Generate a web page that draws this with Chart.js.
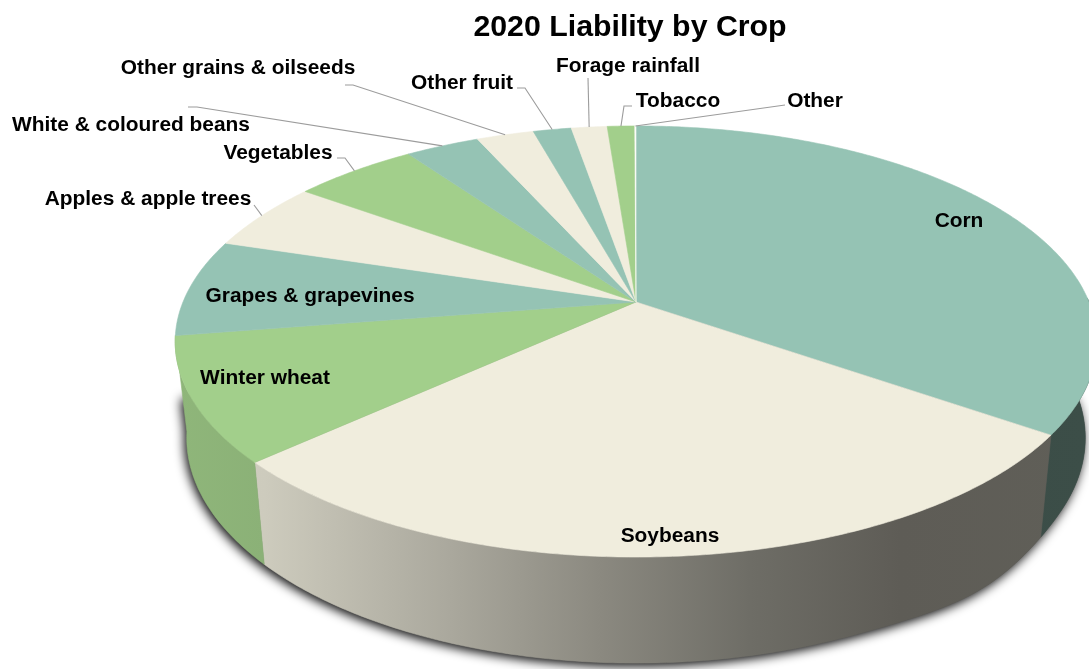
<!DOCTYPE html>
<html>
<head>
<meta charset="utf-8">
<title>2020 Liability by Crop</title>
<script src="https://cdn.jsdelivr.net/npm/chart.js@4"></script>
<style>
  html, body { margin: 0; padding: 0; background: #ffffff; }
  #wrap { width: 1089px; height: 669px; overflow: hidden; }
</style>
</head>
<body>
<div id="wrap"><canvas id="chart" width="1089" height="669"></canvas></div>
<script>
// Share of total 2020 liability, in percent.
const chartTitle = '2020 Liability by Crop';
const crops = ['Corn', 'Soybeans', 'Winter wheat', 'Grapes & grapevines', 'Apples & apple trees',
  'Vegetables', 'White & coloured beans', 'Other grains & oilseeds', 'Other fruit',
  'Forage rainfall', 'Tobacco', 'Other'];
const liability = [34.7, 28.5, 9.3, 7.3, 5.2, 5.2, 3.1, 2.4, 1.6, 1.5, 1.15, 0.05];

const TEAL = [149, 195, 180], CREAM = [240, 237, 221], GREEN = [162, 207, 139];
const sliceColors = [TEAL, CREAM, GREEN, TEAL, CREAM, GREEN, TEAL, CREAM, TEAL, CREAM, GREEN, [252, 252, 248]];

// Label centres, plus the elbow points of the leader lines (none for labels on the pie).
const labelCentres = [[959, 221], [670, 536], [265, 378], [310, 296], [148, 199], [278, 153],
  [131, 125], [238, 68], [462, 83], [628, 66], [678, 101], [815, 101]];
const leaderPaths = [null, null, null, null, [[254, 205]], [[345, 158], [337, 158]],
  [[197, 107], [188, 107]], [[353, 85], [345, 85]], [[525, 88], [517, 88]], [[588, 78]],
  [[624, 106], [632, 106]], [[785, 105]]];

// Perspective view of the unit disc: the apex sits above the centre of the rim ellipse.
const APEX = { x: 636, y: 302 };
const VIEW = { d: 453, a: 208.3, c: -0.1833 };
const toTop = (t) => {
  const u = Math.cos(t), v = Math.sin(t), w = 1 + VIEW.c * v;
  return { x: APEX.x + VIEW.d * u / w, y: APEX.y + VIEW.a * v / w };
};
// Lower rim of the disc's side wall; it sags a little towards the lower right.
const toBottom = (p) => {
  const w = (p.x - 800) / 275;
  const sag = w > 0 && w < 1 ? 7 * Math.sin(Math.PI * Math.pow(w, 1.87)) ** 2 : 0;
  return { x: APEX.x + 0.975 * (p.x - APEX.x), y: 1.045 * p.y + 81 + sag };
};

// The wall shows below the rim from the right edge round to just past the lower left.
const WALL_LEFT_LIMIT = 0.15;
const wallVisible = (t) => (Math.cos(t) < 0 ? Math.sin(t) > WALL_LEFT_LIMIT : Math.sin(t) > -0.02);

// Side wall brightness relative to the slice colour, by canvas x.
const wallShade = [[175, 0.88], [265, 0.855], [450, 0.71], [600, 0.58], [750, 0.46], [900, 0.39], [1089, 0.40]];

function wallGradient(ctx, rgb) {
  const g = ctx.createLinearGradient(175, 0, 1089, 0);
  for (const [x, f] of wallShade) {
    g.addColorStop((x - 175) / 914, `rgb(${rgb.map((c) => Math.round(c * f)).join(',')})`);
  }
  return g;
}

function arcSamples(start, end) {
  const n = Math.max(2, Math.ceil((end - start) / 0.01));
  const pts = [];
  for (let i = 0; i <= n; i++) pts.push(start + (end - start) * i / n);
  return pts;
}

const pie3d = {
  id: 'pie3d',
  // Replaces the flat arc drawing, using the angles the pie controller computed.
  beforeDatasetDraw(chart) {
    const ctx = chart.ctx;
    const arcs = chart.getDatasetMeta(0).data;

    // Drop shadow under the wall's outline; on the left it fades out part way up the wall.
    const outline = arcSamples(0, Math.PI - Math.asin(WALL_LEFT_LIMIT)).map(toTop);
    const lower = outline.map(toBottom);
    const rimEnd = outline[outline.length - 1], lowEnd = lower[lower.length - 1];
    ctx.save();
    ctx.beginPath();
    lower.forEach((p, i) => (i ? ctx.lineTo(p.x, p.y) : ctx.moveTo(p.x, p.y)));
    ctx.lineTo(rimEnd.x + 0.65 * (lowEnd.x - rimEnd.x), rimEnd.y + 0.65 * (lowEnd.y - rimEnd.y));
    ctx.lineTo(APEX.x, APEX.y);
    ctx.closePath();
    ctx.shadowColor = 'rgba(0,0,0,1)';
    ctx.shadowBlur = 11;
    ctx.shadowOffsetX = -2;
    ctx.shadowOffsetY = 3;
    ctx.fillStyle = '#555';
    ctx.fill();
    ctx.restore();

    // Side wall.
    arcs.forEach((arc, i) => {
      const ts = arcSamples(arc.startAngle, arc.endAngle).filter(wallVisible);
      if (ts.length < 2) return;
      const top = ts.map(toTop);
      const low = top.map(toBottom).reverse();
      ctx.beginPath();
      top.concat(low).forEach((p, k) => (k ? ctx.lineTo(p.x, p.y) : ctx.moveTo(p.x, p.y)));
      ctx.closePath();
      ctx.fillStyle = wallGradient(ctx, sliceColors[i]);
      ctx.strokeStyle = ctx.fillStyle;
      ctx.lineWidth = 0.6;
      ctx.fill();
      ctx.stroke();
    });

    // Top face.
    arcs.forEach((arc, i) => {
      ctx.beginPath();
      ctx.moveTo(APEX.x, APEX.y);
      arcSamples(arc.startAngle, arc.endAngle).map(toTop).forEach((p) => ctx.lineTo(p.x, p.y));
      ctx.closePath();
      const col = `rgb(${sliceColors[i].join(',')})`;
      ctx.fillStyle = col;
      ctx.strokeStyle = col;
      ctx.lineWidth = 0.6;
      ctx.fill();
      ctx.stroke();
    });
    return false;
  },
  afterDatasetsDraw(chart) {
    const ctx = chart.ctx;
    const arcs = chart.getDatasetMeta(0).data;
    ctx.save();

    ctx.strokeStyle = '#9c9c9c';
    ctx.lineWidth = 1.1;
    leaderPaths.forEach((path, i) => {
      if (!path) return;
      const start = toTop((arcs[i].startAngle + arcs[i].endAngle) / 2);
      ctx.beginPath();
      ctx.moveTo(start.x, start.y);
      path.forEach(([x, y]) => ctx.lineTo(x, y));
      ctx.stroke();
    });

    ctx.fillStyle = '#000';
    ctx.textAlign = 'center';
    ctx.textBaseline = 'middle';
    ctx.font = 'bold 20.9px "Liberation Sans", Arial, sans-serif';
    crops.forEach((name, i) => ctx.fillText(name, labelCentres[i][0], labelCentres[i][1]));

    ctx.font = 'bold 30.3px "Liberation Sans", Arial, sans-serif';
    ctx.fillText(chartTitle, 630, 28);
    ctx.restore();
  }
};

new Chart(document.getElementById('chart'), {
  type: 'pie',
  data: {
    labels: crops,
    datasets: [{ data: liability, backgroundColor: sliceColors.map((c) => `rgb(${c.join(',')})`), borderWidth: 0 }]
  },
  options: {
    responsive: false,
    animation: false,
    plugins: { legend: { display: false }, tooltip: { enabled: false }, title: { display: false } }
  },
  plugins: [pie3d]
});
</script>
</body>
</html>
